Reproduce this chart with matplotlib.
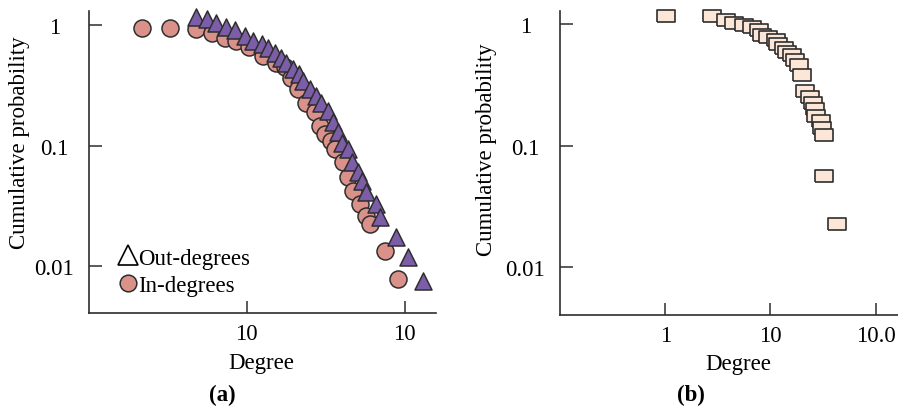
import matplotlib; matplotlib.use("Agg")
import matplotlib.pyplot as plt
from matplotlib.lines import Line2D

plt.rcParams['font.family'] = ['Liberation Serif', 'DejaVu Serif']
plt.rcParams['font.size'] = 16.5

# (a) cumulative degree distributions
in_deg = [2.17, 3.26, 4.80, 5.98, 7.26, 8.52, 10.4, 12.7, 15.4, 17.4, 19.2, 21.1, 23.9,
          26.9, 29.0, 31.2, 34.4, 36.1, 40.7, 43.8, 47.1, 51.9, 57.2, 60.0, 74.7, 90.7]
in_prob = [0.944, 0.944, 0.926, 0.858, 0.790, 0.741, 0.666, 0.556, 0.490, 0.448, 0.363, 0.294,
           0.228, 0.189, 0.146, 0.125, 0.109, 0.0935, 0.0725, 0.0545, 0.0422, 0.0327, 0.0262,
           0.0223, 0.0134, 0.0078]
out_deg = [4.80, 5.56, 6.39, 7.36, 8.46, 9.71, 10.96, 12.4, 13.7, 15.2, 16.4, 17.8, 19.6, 21.4,
           22.7, 25.0, 27.6, 29.7, 32.7, 35.2, 37.8, 39.9, 43.8, 46.2, 50.4, 53.4, 57.2, 66.2,
           69.5, 88.1, 105, 130]
out_prob = [1.18, 1.13, 1.04, 0.972, 0.909, 0.818, 0.744, 0.696, 0.644, 0.586, 0.539, 0.490,
            0.431, 0.392, 0.345, 0.294, 0.259, 0.228, 0.194, 0.156, 0.131, 0.106, 0.0935,
            0.0725, 0.0599, 0.0510, 0.0409, 0.0327, 0.0254, 0.0173, 0.0118, 0.00755]

# (b)
b_deg = [1.02, 2.81, 3.77, 4.54, 5.58, 6.65, 7.81, 8.31, 9.53, 11.4, 11.8, 13.4, 14.3, 15.9,
         17.1, 18.7, 19.8, 21.3, 23.5, 25.3, 26.4, 27.0, 30.1, 31.2, 32.3, 32.3, 43.2]
b_prob = [1.157, 1.157, 1.085, 1.029, 0.987, 0.954, 0.892, 0.812, 0.789, 0.738, 0.685, 0.641,
          0.594, 0.556, 0.505, 0.460, 0.384, 0.281, 0.251, 0.224, 0.202, 0.175, 0.158, 0.139,
          0.123, 0.0564, 0.0225]

yticks = [1, 0.1, 0.01]; ylabels = ["1", "0.1", "0.01"]
a_xticks = [10, 100]; a_xlabels = ["10", "10"]
b_xticks = [1, 10, 100]; b_xlabels = ["1", "10", "10.0"]

edge = "#2e2e2e"
fig = plt.figure(figsize=(8.98, 4.14), dpi=100)
axa = fig.add_axes([0.099, 0.2415, 0.386, 0.729])
axb = fig.add_axes([0.6236, 0.2367, 0.376, 0.734])

axa.scatter(in_deg, in_prob, s=150, marker="o", fc="#DA918A", ec=edge, lw=1.1, clip_on=False, zorder=3)
axa.scatter(out_deg, out_prob, s=150, marker="^", fc="#7B5EA7", ec=edge, lw=1.1, clip_on=False, zorder=4)
rect = [(-1.5, -1), (1.5, -1), (1.5, 1), (-1.5, 1), (-1.5, -1)]
axb.scatter(b_deg, b_prob, s=185, marker=rect, fc="#FCE6D8", ec=edge, lw=1.2, clip_on=False, zorder=3)

for ax, xt, xl, xlim, ylim in [(axa, a_xticks, a_xlabels, (1, 157), (0.00407, 1.31)),
                               (axb, b_xticks, b_xlabels, (0.1, 161.6), (0.00403, 1.28))]:
    ax.set_xscale("log"); ax.set_yscale("log")
    ax.set_xlim(*xlim); ax.set_ylim(*ylim)
    ax.set_xticks(xt); ax.set_xticklabels(xl)
    ax.set_yticks(yticks); ax.set_yticklabels(ylabels)
    ax.minorticks_off()
    for s in ["top", "right"]:
        ax.spines[s].set_visible(False)
    for s in ["left", "bottom"]:
        ax.spines[s].set_color(edge); ax.spines[s].set_linewidth(1.2)
    ax.tick_params(axis="both", direction="in", length=9, width=1.1, color=edge)
    ax.tick_params(axis="y", pad=25)
    ax.tick_params(axis="x", pad=7)
    for t in ax.get_yticklabels():
        t.set_ha("center")
    ax.set_xlabel("Degree")
    ax.set_ylabel("Cumulative probability")

axa.xaxis.set_label_coords(0.496, -0.13)
axb.xaxis.set_label_coords(0.527, -0.125)
axa.yaxis.set_label_coords(-0.17, 0.568)
axb.yaxis.set_label_coords(-0.186, 0.546)

handles = [Line2D([], [], ls="none", marker="^", ms=14, mfc="white", mec="black", mew=1.2),
           Line2D([], [], ls="none", marker="o", ms=12, mfc="#DA918A", mec=edge, mew=1.1)]
axa.legend(handles, ["Out-degrees", "In-degrees"], loc="lower left", bbox_to_anchor=(0.085, 0.055),
           frameon=False, borderpad=0, handlelength=0.8, handletextpad=0.05, labelspacing=0.3,
           borderaxespad=0)

fig.text(0.248, 0.046, "(a)", ha="center", va="center", fontweight="bold")
fig.text(0.7695, 0.046, "(b)", ha="center", va="center", fontweight="bold")

fig.savefig("out.png", dpi=100)
